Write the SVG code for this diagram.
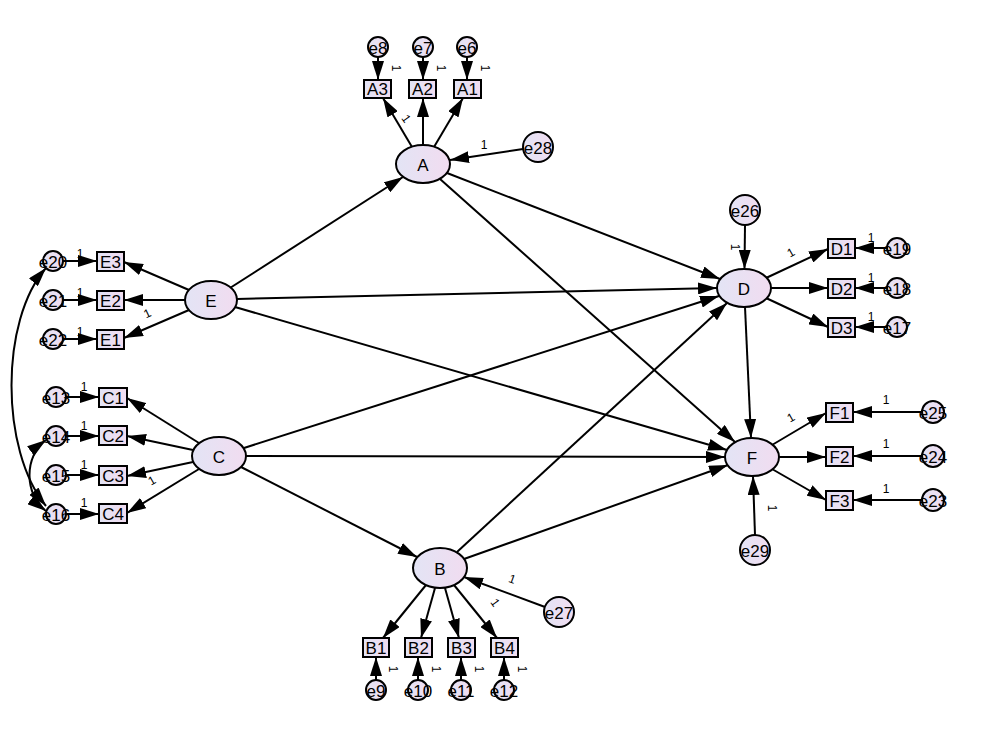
<svg xmlns="http://www.w3.org/2000/svg" width="985" height="738" viewBox="0 0 985 738">
<defs>
<linearGradient id="g" x1="0" y1="0" x2="1" y2="0">
<stop offset="0" stop-color="#e3e4f5"/>
<stop offset="1" stop-color="#f1dcf0"/>
</linearGradient>
<marker id="ah" viewBox="0 0 19 12" refX="19" refY="6" markerWidth="19" markerHeight="12" markerUnits="userSpaceOnUse" orient="auto-start-reverse">
<path d="M0,0 L19,6 L0,12 Z" fill="#000"/>
</marker>
<style>
.n{fill:url(#g);stroke:#000;stroke-width:2}
.t{font-family:"Liberation Sans",Arial,sans-serif;font-size:17px;fill:#000;text-anchor:middle;dominant-baseline:central}
.b{font-family:"Liberation Sans",Arial,sans-serif;font-size:17px;fill:#000;text-anchor:middle;dominant-baseline:central}
.e{font-family:"Liberation Sans",Arial,sans-serif;font-size:17px;fill:#000;text-anchor:middle;dominant-baseline:central}
.l{font-family:"Liberation Sans",Arial,sans-serif;font-size:12px;fill:#000;text-anchor:middle}
#conn line,#conn path{stroke:#000;stroke-width:2;fill:none;marker-end:url(#ah)}
#conn path.cov{marker-start:url(#ah)}
</style>
</defs>
<rect width="985" height="738" fill="#fff"/>

<g id="conn">
<!-- structural -->
<line x1="230" y1="288" x2="403" y2="177"/>
<line x1="447" y1="173" x2="720" y2="279"/>
<line x1="440" y1="179" x2="735" y2="442"/>
<line x1="237" y1="299" x2="717" y2="288"/>
<line x1="235" y1="307" x2="727" y2="450"/>
<line x1="244" y1="448" x2="719" y2="296"/>
<line x1="246" y1="456" x2="725" y2="457"/>
<line x1="241" y1="467" x2="417" y2="557"/>
<line x1="457" y1="552" x2="727" y2="303"/>
<line x1="464" y1="559" x2="728" y2="465"/>
<line x1="745" y1="307" x2="751" y2="438"/>
<!-- A -->
<line x1="412" y1="147" x2="383" y2="98"/>
<line x1="423" y1="145" x2="423" y2="98"/>
<line x1="434" y1="147" x2="463" y2="98"/>
<line x1="378" y1="57" x2="378" y2="80"/>
<line x1="423" y1="57" x2="423" y2="80"/>
<line x1="467" y1="57" x2="467" y2="80"/>
<line x1="523" y1="149" x2="450" y2="160"/>
<!-- E -->
<line x1="189" y1="290" x2="124" y2="262"/>
<line x1="185" y1="300" x2="124" y2="300"/>
<line x1="189" y1="310" x2="124" y2="338"/>
<line x1="63" y1="261" x2="97" y2="261"/>
<line x1="63" y1="300" x2="97" y2="300"/>
<line x1="63" y1="339" x2="97" y2="339"/>
<!-- C -->
<line x1="199" y1="443" x2="127" y2="398"/>
<line x1="193" y1="450" x2="127" y2="436"/>
<line x1="193" y1="462" x2="127" y2="476"/>
<line x1="199" y1="469" x2="127" y2="513"/>
<line x1="66" y1="397" x2="99" y2="397"/>
<line x1="66" y1="436" x2="99" y2="436"/>
<line x1="66" y1="475" x2="99" y2="475"/>
<line x1="66" y1="514" x2="99" y2="514"/>
<!-- D -->
<line x1="766" y1="278" x2="828" y2="249"/>
<line x1="771" y1="288" x2="828" y2="288"/>
<line x1="766" y1="298" x2="828" y2="327"/>
<line x1="887" y1="248" x2="855" y2="248"/>
<line x1="887" y1="288" x2="855" y2="288"/>
<line x1="887" y1="327" x2="855" y2="327"/>
<line x1="745" y1="225" x2="744.5" y2="269"/>
<!-- F -->
<line x1="772" y1="445" x2="826" y2="413"/>
<line x1="779" y1="457" x2="826" y2="457"/>
<line x1="772" y1="469" x2="826" y2="500"/>
<line x1="922" y1="412" x2="853" y2="412"/>
<line x1="922" y1="456" x2="853" y2="456"/>
<line x1="922" y1="500" x2="853" y2="500"/>
<line x1="755" y1="535" x2="753" y2="476"/>
<!-- B -->
<line x1="426" y1="585" x2="383" y2="638"/>
<line x1="435" y1="588" x2="421" y2="638"/>
<line x1="445" y1="588" x2="459" y2="638"/>
<line x1="454" y1="585" x2="497" y2="638"/>
<line x1="376" y1="680" x2="376" y2="657"/>
<line x1="418" y1="680" x2="418" y2="657"/>
<line x1="461" y1="680" x2="461" y2="657"/>
<line x1="504" y1="680" x2="504" y2="657"/>
<line x1="545" y1="607" x2="464" y2="577"/>
<!-- covariances -->
<path class="cov" d="M46,268 C0,320 0,450 46,506"/>
<path class="cov" d="M46,440 C24,456 24,494 46,511"/>
</g>

<!-- latent variables -->
<g id="A"><ellipse class="n" cx="423" cy="164" rx="27" ry="19"/><text class="t" x="423" y="165">A</text></g>
<g id="E"><ellipse class="n" cx="211" cy="300" rx="26" ry="19"/><text class="t" x="211" y="301">E</text></g>
<g id="C"><ellipse class="n" cx="219" cy="456" rx="27" ry="19"/><text class="t" x="219" y="457">C</text></g>
<g id="D"><ellipse class="n" cx="744" cy="288" rx="27" ry="19"/><text class="t" x="744" y="289">D</text></g>
<g id="F"><ellipse class="n" cx="752" cy="457" rx="27" ry="19"/><text class="t" x="752" y="458">F</text></g>
<g id="B"><ellipse class="n" cx="440" cy="568" rx="27" ry="20"/><text class="t" x="440" y="569">B</text></g>

<!-- observed -->
<g id="A3"><rect class="n" x="364" y="80" width="27" height="18"/><text class="b" x="377.5" y="89.5">A3</text></g>
<g id="A2"><rect class="n" x="409" y="80" width="27" height="18"/><text class="b" x="422.5" y="89.5">A2</text></g>
<g id="A1"><rect class="n" x="454" y="80" width="27" height="18"/><text class="b" x="467.5" y="89.5">A1</text></g>
<g id="E3"><rect class="n" x="97" y="252" width="27" height="19"/><text class="b" x="110.5" y="262">E3</text></g>
<g id="E2"><rect class="n" x="97" y="291" width="27" height="19"/><text class="b" x="110.5" y="301">E2</text></g>
<g id="E1"><rect class="n" x="97" y="330" width="27" height="19"/><text class="b" x="110.5" y="340">E1</text></g>
<g id="C1"><rect class="n" x="99" y="388" width="28" height="19"/><text class="b" x="113" y="398">C1</text></g>
<g id="C2"><rect class="n" x="99" y="426" width="28" height="19"/><text class="b" x="113" y="436">C2</text></g>
<g id="C3"><rect class="n" x="99" y="466" width="28" height="19"/><text class="b" x="113" y="476">C3</text></g>
<g id="C4"><rect class="n" x="99" y="504" width="28" height="19"/><text class="b" x="113" y="514">C4</text></g>
<g id="D1"><rect class="n" x="828" y="239" width="27" height="19"/><text class="b" x="841.5" y="249">D1</text></g>
<g id="D2"><rect class="n" x="828" y="279" width="27" height="19"/><text class="b" x="841.5" y="289">D2</text></g>
<g id="D3"><rect class="n" x="828" y="318" width="27" height="19"/><text class="b" x="841.5" y="328">D3</text></g>
<g id="F1"><rect class="n" x="826" y="403" width="27" height="19"/><text class="b" x="839.5" y="413">F1</text></g>
<g id="F2"><rect class="n" x="826" y="447" width="27" height="19"/><text class="b" x="839.5" y="457">F2</text></g>
<g id="F3"><rect class="n" x="826" y="491" width="27" height="19"/><text class="b" x="839.5" y="501">F3</text></g>
<g id="B1"><rect class="n" x="363" y="638" width="26" height="19"/><text class="b" x="376" y="648">B1</text></g>
<g id="B2"><rect class="n" x="405" y="638" width="27" height="19"/><text class="b" x="418.5" y="648">B2</text></g>
<g id="B3"><rect class="n" x="448" y="638" width="27" height="19"/><text class="b" x="461.5" y="648">B3</text></g>
<g id="B4"><rect class="n" x="491" y="638" width="27" height="19"/><text class="b" x="504.5" y="648">B4</text></g>

<!-- errors -->
<g id="e8"><circle class="n" cx="378" cy="47" r="10"/><text class="e" x="378" y="48">e8</text></g>
<g id="e7"><circle class="n" cx="423" cy="47" r="10"/><text class="e" x="423" y="48">e7</text></g>
<g id="e6"><circle class="n" cx="467" cy="47" r="10"/><text class="e" x="467" y="48">e6</text></g>
<g id="e28"><circle class="n" cx="538" cy="147" r="15"/><text class="e" x="538" y="148">e28</text></g>
<g id="e20"><circle class="n" cx="53" cy="261" r="10"/><text class="e" x="53" y="262">e20</text></g>
<g id="e21"><circle class="n" cx="53" cy="300" r="10"/><text class="e" x="53" y="301">e21</text></g>
<g id="e22"><circle class="n" cx="53" cy="339" r="10"/><text class="e" x="53" y="340">e22</text></g>
<g id="e13"><circle class="n" cx="56" cy="397" r="10"/><text class="e" x="56" y="398">e13</text></g>
<g id="e14"><circle class="n" cx="56" cy="436" r="10"/><text class="e" x="56" y="437">e14</text></g>
<g id="e15"><circle class="n" cx="56" cy="475" r="10"/><text class="e" x="56" y="476">e15</text></g>
<g id="e16"><circle class="n" cx="56" cy="514" r="10"/><text class="e" x="56" y="515">e16</text></g>
<g id="e26"><circle class="n" cx="745" cy="210" r="15"/><text class="e" x="745" y="211">e26</text></g>
<g id="e19"><circle class="n" cx="897" cy="248" r="10"/><text class="e" x="897" y="249">e19</text></g>
<g id="e18"><circle class="n" cx="897" cy="288" r="10"/><text class="e" x="897" y="289">e18</text></g>
<g id="e17"><circle class="n" cx="897" cy="327" r="10"/><text class="e" x="897" y="328">e17</text></g>
<g id="e25"><circle class="n" cx="933" cy="412" r="11"/><text class="e" x="933" y="413">e25</text></g>
<g id="e24"><circle class="n" cx="933" cy="456" r="11"/><text class="e" x="933" y="457">e24</text></g>
<g id="e23"><circle class="n" cx="933" cy="500" r="11"/><text class="e" x="933" y="501">e23</text></g>
<g id="e29"><circle class="n" cx="755" cy="550" r="15"/><text class="e" x="755" y="551">e29</text></g>
<g id="e27"><circle class="n" cx="559" cy="612" r="15"/><text class="e" x="559" y="613">e27</text></g>
<g id="e9"><circle class="n" cx="376" cy="690" r="10"/><text class="e" x="376" y="691">e9</text></g>
<g id="e10"><circle class="n" cx="418" cy="690" r="10"/><text class="e" x="418" y="691">e10</text></g>
<g id="e11"><circle class="n" cx="461" cy="690" r="10"/><text class="e" x="461" y="691">e11</text></g>
<g id="e12"><circle class="n" cx="504" cy="690" r="10"/><text class="e" x="504" y="691">e12</text></g>

<!-- path labels -->
<g id="labels">
<text class="l" transform="translate(392,68) rotate(90)">1</text>
<text class="l" transform="translate(437,68) rotate(90)">1</text>
<text class="l" transform="translate(481,68) rotate(90)">1</text>
<text class="l" transform="translate(403,121) rotate(55)">1</text>
<text class="l" x="484" y="149">1</text>
<text class="l" x="80" y="258">1</text>
<text class="l" x="80" y="297">1</text>
<text class="l" x="80" y="336">1</text>
<text class="l" transform="translate(149,317) rotate(-25)">1</text>
<text class="l" x="84" y="391">1</text>
<text class="l" x="84" y="430">1</text>
<text class="l" x="84" y="469">1</text>
<text class="l" x="84" y="507">1</text>
<text class="l" transform="translate(154,484) rotate(-30)">1</text>
<text class="l" transform="translate(731,247) rotate(90)">1</text>
<text class="l" transform="translate(793,256) rotate(-30)">1</text>
<text class="l" x="871" y="242">1</text>
<text class="l" x="871" y="282">1</text>
<text class="l" x="871" y="321">1</text>
<text class="l" transform="translate(793,421) rotate(-30)">1</text>
<text class="l" x="886" y="404">1</text>
<text class="l" x="886" y="448">1</text>
<text class="l" x="886" y="493">1</text>
<text class="l" transform="translate(768,508) rotate(90)">1</text>
<text class="l" transform="translate(492,605) rotate(55)">1</text>
<text class="l" transform="translate(511,583) rotate(20)">1</text>
<text class="l" transform="translate(389,669) rotate(90)">1</text>
<text class="l" transform="translate(432,669) rotate(90)">1</text>
<text class="l" transform="translate(475,669) rotate(90)">1</text>
<text class="l" transform="translate(518,669) rotate(90)">1</text>
</g>
</svg>
